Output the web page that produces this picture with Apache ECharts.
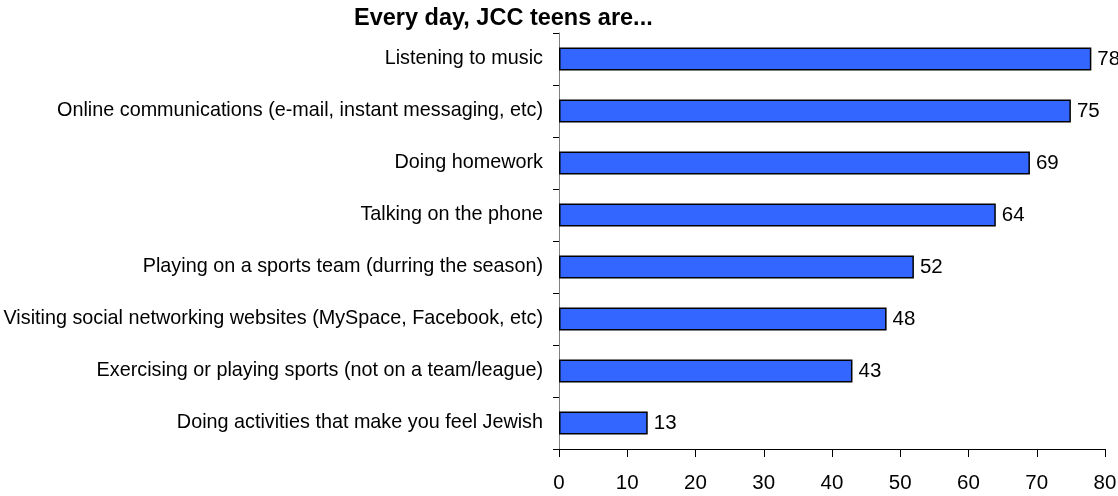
<!DOCTYPE html>
<html>
<head>
<meta charset="utf-8">
<script src="https://cdn.jsdelivr.net/npm/echarts@6/dist/echarts.min.js"></script>
<style>
  html, body { margin: 0; padding: 0; background: #ffffff; }
  #chart { width: 1118px; height: 496px; }
</style>
</head>
<body>
<div id="chart"></div>
<script>
// Activities, top to bottom, and the share of teens doing each one every day
const activities = [
  'Listening to music',
  'Online communications (e-mail, instant messaging, etc)',
  'Doing homework',
  'Talking on the phone',
  'Playing on a sports team (durring the season)',
  'Visiting social networking websites (MySpace, Facebook, etc)',
  'Exercising or playing sports (not on a team/league)',
  'Doing activities that make you feel Jewish'
];
const percentDaily = [78, 75, 69, 64, 52, 48, 43, 13];
const titleText = 'Every day, JCC teens are...';

const FONT = '"Liberation Sans", Arial, Helvetica, sans-serif';

const chart = echarts.init(document.getElementById('chart'), null, { renderer: 'canvas' });

chart.setOption({
  backgroundColor: '#ffffff',
  animation: false,
  title: {
    text: titleText,
    left: 349,
    top: 2,
    textStyle: { fontFamily: FONT, fontSize: 23.5, fontWeight: 'bold', color: '#000000' }
  },
  grid: {
    left: 559, right: 13, top: 33, bottom: 47,
    containLabel: false,
    outerBoundsMode: 'none'
  },
  xAxis: {
    type: 'value',
    min: 0,
    max: 80,
    interval: 10,
    splitLine: { show: false },
    axisLine: { show: true, lineStyle: { color: '#000000', width: 1 } },
    axisTick: { show: true, length: 8, lineStyle: { color: '#000000' } },
    axisLabel: { fontFamily: FONT, fontSize: 20.5, color: '#000000', margin: 24 }
  },
  yAxis: {
    type: 'category',
    inverse: true,
    data: activities,
    axisLine: { show: true, lineStyle: { color: '#808080', width: 1 } },
    axisTick: { show: true, length: 6, alignWithLabel: false, lineStyle: { color: '#000000' } },
    axisLabel: { fontFamily: FONT, fontSize: 19.8, color: '#000000', margin: 16 }
  },
  series: [{
    type: 'bar',
    data: percentDaily,
    barWidth: 23,
    itemStyle: { color: '#3366FF', borderColor: '#000000', borderWidth: 1.5 },
    label: {
      show: true,
      position: 'right',
      distance: 6,
      fontFamily: FONT,
      fontSize: 20.5,
      color: '#000000'
    }
  }]
});
</script>
</body>
</html>
